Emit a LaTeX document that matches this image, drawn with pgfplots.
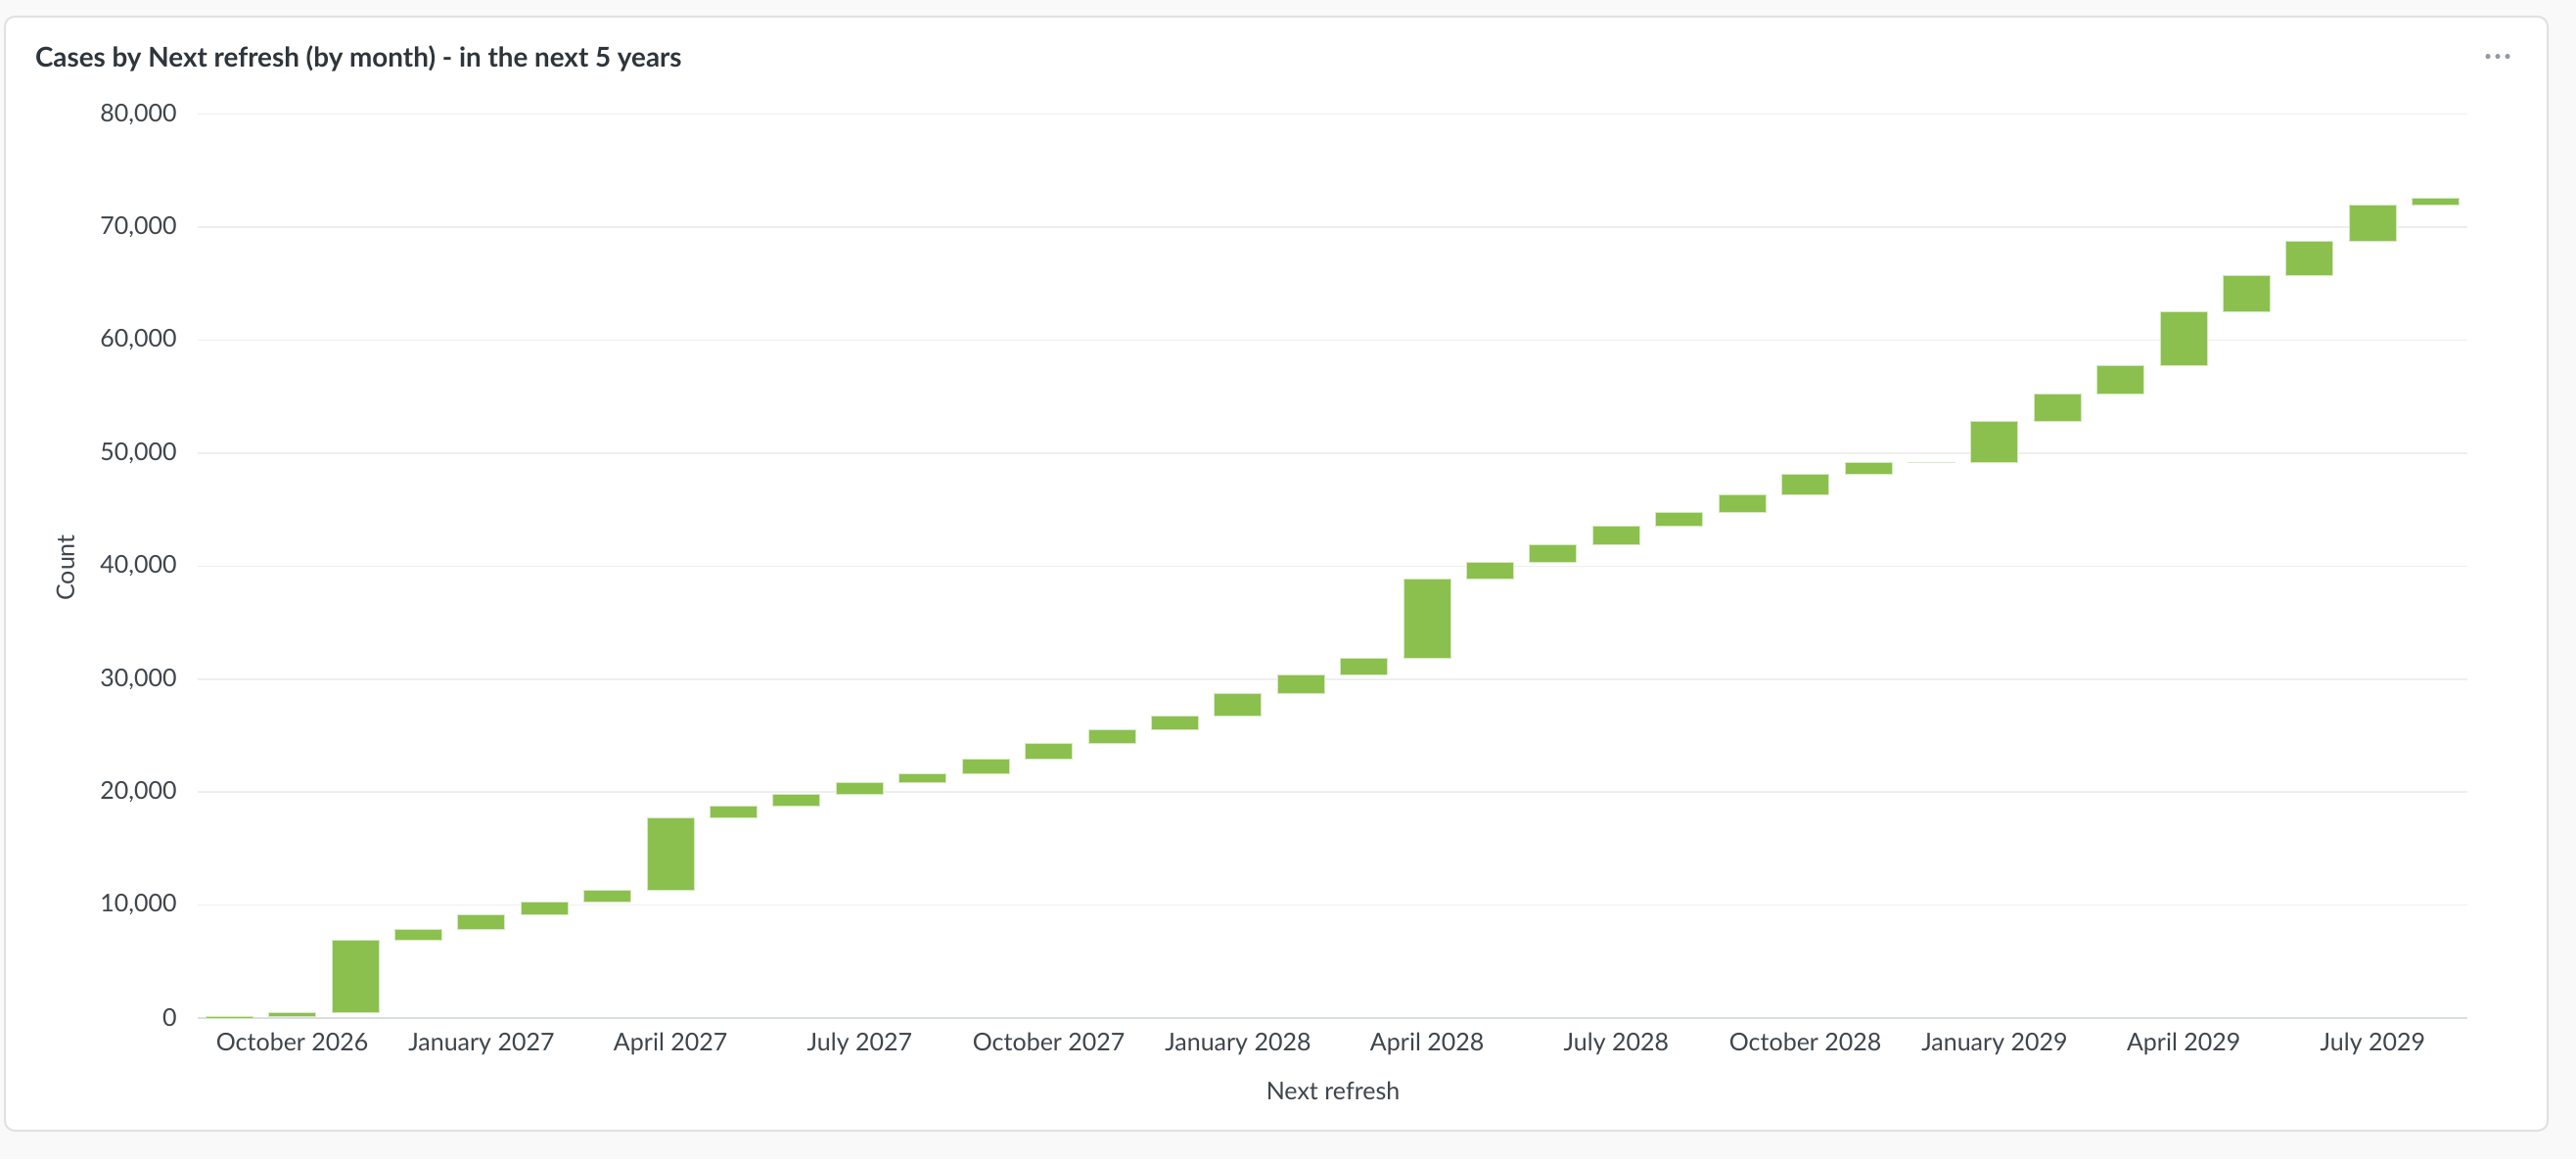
\documentclass[border=0pt]{standalone}
\usepackage{fontspec}
\setmainfont{Lato}
\usepackage{pgfplots}
\usepackage{pgfplotstable}
\pgfplotsset{compat=1.18}
\definecolor{barc}{HTML}{8BC04F}
\definecolor{bgc}{HTML}{F9F9F9}
\definecolor{cardb}{HTML}{DFE1E3}
\definecolor{gridc}{HTML}{EEEEEE}
\definecolor{axisc}{HTML}{D9DEDF}
\definecolor{tickc}{HTML}{3E454C}
\definecolor{titlec}{HTML}{2E353B}
\definecolor{dotc}{HTML}{949AA3}
\pgfplotstableread{
x low high
0 0 170
1 170 520
2 520 6850
3 6850 7860
4 7860 9130
5 9130 10290
6 10290 11350
7 11350 17700
8 17700 18720
9 18720 19760
10 19760 20800
11 20800 21640
12 21640 22880
13 22880 24320
14 24320 25540
15 25540 26750
16 26750 28710
17 28710 30390
18 30390 31830
19 31830 38820
20 38820 40350
21 40350 41880
22 41880 43500
23 43500 44710
24 44710 46330
25 46330 48150
26 48150 49130
27 49130 49140
28 49140 52800
29 52800 55280
30 55280 57710
31 57710 62500
32 62500 65740
33 65740 68740
34 68740 71920
35 71920 72590
}\data
\begin{document}
\begin{tikzpicture}
\path[use as bounding box] (0,0) rectangle (1316pt,592pt);
\fill[bgc] (0,0) rectangle (1316pt,592pt);
\draw[cardb, line width=1pt, fill=white, rounded corners=5pt] (2.5pt,14.5pt) rectangle (1301.5pt,583.5pt);
\begin{axis}[
  at={(101pt,72pt)}, anchor=south west,
  scale only axis, width=1159.5pt, height=461.65pt,
  xmin=-0.5, xmax=35.5, ymin=0, ymax=80000,
  ybar stacked, bar width=0.745,
  axis x line*=bottom, axis y line*=left,
  y axis line style={draw=none},
  x axis line style={draw=axisc, line width=1.2pt, -},
  major tick length=0pt,
  ymajorgrids, grid style={draw=gridc, line width=0.8pt},
  ytick={0,10000,...,80000},
  xtick={1,4,...,34},
  xticklabels={October 2026, January 2027, April 2027, July 2027, October 2027, January 2028, April 2028, July 2028, October 2028, January 2029, April 2029, July 2029},
  /pgf/number format/assume math mode=true,
  /pgf/number format/fixed,
  /pgf/number format/precision=0,
  /pgf/number format/1000 sep={,},
  scaled y ticks=false,
  yticklabel style={font=\fontsize{12.5}{14}\selectfont, text=tickc, inner sep=0pt, xshift=-10.5pt},
  xticklabel style={font=\fontsize{12.5}{14}\selectfont, text=tickc, inner sep=0pt, yshift=-7.5pt},
  clip=false,
]
\addplot[draw=none, fill=none, forget plot] table[x=x, y=low] {\data};
\addplot[fill=barc, draw=barc!35!white, line width=0.5pt] table[x=x, y expr=\thisrow{high}-\thisrow{low}] {\data};
\end{axis}
\node[anchor=west, text=titlec, font=\fontsize{13.9}{16}\bfseries\selectfont, inner sep=0pt] at (17.8pt,562.2pt) {Cases by Next refresh (by month) - in the next 5 years};
\node[rotate=90, text=tickc, font=\fontsize{12.5}{14}\selectfont, inner sep=0pt] at (33.5pt,302pt) {Count};
\node[text=tickc, font=\fontsize{12.5}{14}\selectfont, inner sep=0pt] at (681pt,35pt) {Next refresh};
\fill[dotc] (1271pt,563.2pt) circle (1.3pt);
\fill[dotc] (1276pt,563.2pt) circle (1.3pt);
\fill[dotc] (1281pt,563.2pt) circle (1.3pt);
\end{tikzpicture}
\end{document}
